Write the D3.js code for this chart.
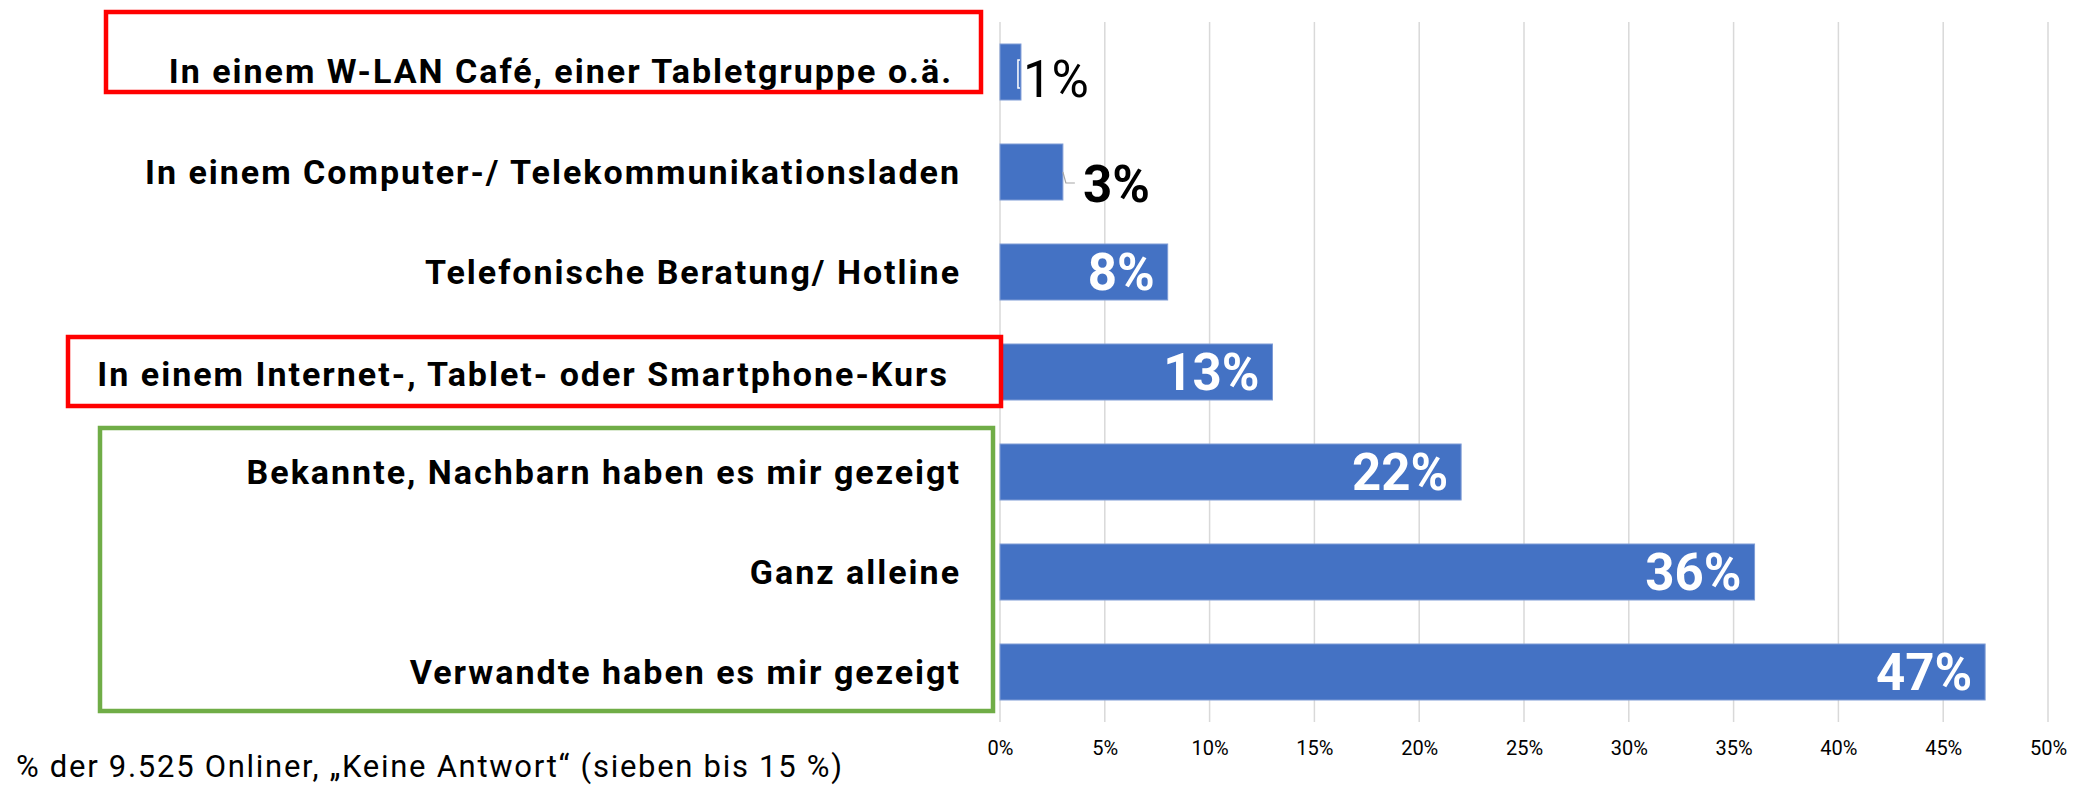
<!DOCTYPE html>
<html><head><meta charset="utf-8">
<script src="https://cdn.jsdelivr.net/npm/d3@7"></script>
<style>
html,body{margin:0;padding:0;background:#fff;}
svg{display:block;font-family:Roboto,"Liberation Sans",sans-serif;}
</style></head>
<body><svg id="c" width="2087" height="785"></svg>
<script>
const categories = [
  "In einem W-LAN Café, einer Tabletgruppe o.ä.",
  "In einem Computer-/ Telekommunikationsladen",
  "Telefonische Beratung/ Hotline",
  "In einem Internet-, Tablet- oder Smartphone-Kurs",
  "Bekannte, Nachbarn haben es mir gezeigt",
  "Ganz alleine",
  "Verwandte haben es mir gezeigt"
];
const values = [1, 3, 8, 13, 22, 36, 47];
const tickValues = [0, 5, 10, 15, 20, 25, 30, 35, 40, 45, 50];
const note = "% der 9.525 Onliner, „Keine Antwort“  (sieben bis 15 %)";

const svg = d3.select("#c");
const x0 = 1000, x1 = 2048, yTop = 22, yBot = 722;
const x = d3.scaleLinear().domain([0, 50]).range([x0, x1]);
const y = d3.scaleBand().domain(categories).range([yTop, yBot]).paddingInner(0.44).paddingOuter(0.22);

// gridlines
svg.append("g").selectAll("line").data(tickValues).join("line")
  .attr("x1", d => x(d)).attr("x2", d => x(d))
  .attr("y1", yTop).attr("y2", yBot)
  .attr("stroke", "#D9D9D9").attr("stroke-width", 1.5);

// bottom axis labels
const xa = svg.append("g").attr("transform", `translate(0,${yBot})`)
  .call(d3.axisBottom(x).tickValues(tickValues).tickFormat(d => d + "%").tickSize(0).tickPadding(19));
xa.select(".domain").remove();
xa.selectAll("text").attr("font-size", 20).attr("fill", "#000").attr("font-family", "Roboto");

// bars
svg.append("g").selectAll("rect").data(values).join("rect")
  .attr("x", x(0)).attr("y", (d, i) => y(categories[i]))
  .attr("width", d => x(d) - x(0)).attr("height", y.bandwidth())
  .attr("fill", "#4472C4").attr("stroke", "#7E9CD6").attr("stroke-width", 1);

// category labels
const labelShift = {0: {dx: -8, dy: -1}, 3: {dx: -12, dy: 2}};
svg.append("g").selectAll("text").data(categories).join("text")
  .attr("x", (d, i) => 961 + (labelShift[i] ? labelShift[i].dx : 0))
  .attr("y", (d, i) => y(d) + y.bandwidth() / 2 + 12 + (labelShift[i] ? labelShift[i].dy : 0))
  .attr("text-anchor", "end").attr("font-size", 34).attr("font-weight", "bold")
  .attr("letter-spacing", 2.0)
  .attr("fill", "#000").text(d => d);

// value labels
const vl = svg.append("g");
values.forEach((v, i) => {
  const cy = y(categories[i]) + y.bandwidth() / 2;
  if (i === 0) {
    vl.append("path").attr("d", `M${x(v)-1},${cy-12} h-2 v28 h2`).attr("fill", "none")
      .attr("stroke", "#fff").attr("stroke-width", 1.5);
    vl.append("text").attr("x", x(v) + 2).attr("y", cy + 25).attr("font-size", 51)
      .attr("fill", "#000").text(v + "%");
  } else if (i === 1) {
    vl.append("path").attr("d", `M${x(v)},${cy} l3,11 h9`).attr("fill", "none")
      .attr("stroke", "#A6A6A6").attr("stroke-width", 1.2);
    vl.append("text").attr("x", x(v) + 20).attr("y", cy + 30).attr("font-size", 51)
      .attr("font-weight", "bold").attr("fill", "#000").text(v + "%");
  } else {
    vl.append("text").attr("x", x(v) - 13).attr("y", cy + 18).attr("text-anchor", "end")
      .attr("font-size", 51).attr("font-weight", "bold").attr("fill", "#fff").text(v + "%");
  }
});

// highlight boxes
const boxes = [
  {x: 106, y: 12, w: 875, h: 80, c: "#FF0000"},
  {x: 68, y: 337, w: 933, h: 69, c: "#FF0000"},
  {x: 100, y: 428, w: 893, h: 283, c: "#70AD47"}
];
svg.append("g").selectAll("rect").data(boxes).join("rect")
  .attr("x", d => d.x).attr("y", d => d.y).attr("width", d => d.w).attr("height", d => d.h)
  .attr("fill", "none").attr("stroke", d => d.c).attr("stroke-width", 4.5);

// note
svg.append("text").attr("x", 16).attr("y", 777).attr("font-size", 31)
  .attr("textLength", 826).attr("lengthAdjust", "spacing")
  .attr("fill", "#000").text(note);
</script></body></html>
